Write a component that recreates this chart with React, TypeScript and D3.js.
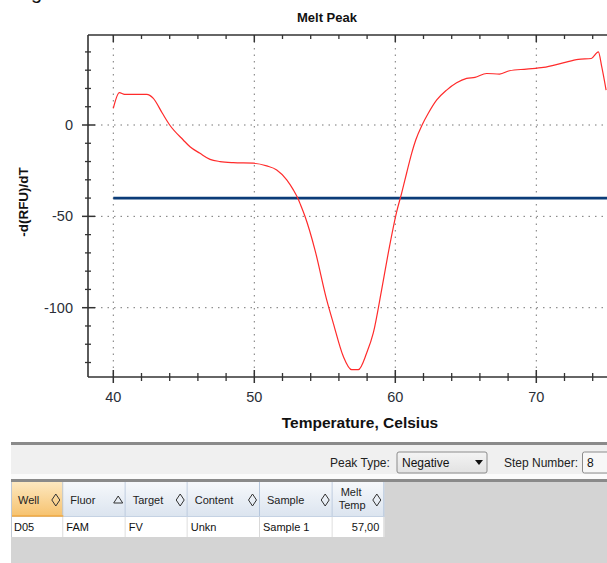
import { scaleLinear, line, range, curveMonotoneX } from "d3"

// Melt peak curve
const temps = [40, 40.43, 40.8, 42.37, 42.84, 43.48, 44.0, 44.96, 45.44, 46.15, 46.86, 47.57, 48.5, 49.93, 50.88, 51.59, 52.3, 52.77, 53.08, 53.28, 53.6, 54.3, 55.13, 55.6, 56.31, 56.9, 57.38, 57.97, 58.44, 59.03, 59.5, 60.1, 60.45, 60.8, 61.16, 61.45, 61.9, 62.34, 62.94, 63.64, 64.35, 65.06, 65.65, 66.48, 67.4, 68.1, 69.3, 70.5, 71.9, 72.98, 73.9, 74.4, 74.64, 74.95]
const values = [9.1, 17.7, 16.8, 16.8, 14.6, 6.4, 0, -8.2, -11.9, -15.5, -18.8, -20, -20.6, -20.9, -22.4, -24.6, -30, -35.5, -40, -43.7, -50.1, -68.3, -95.6, -108.4, -126.6, -133.9, -133.9, -124.8, -113.8, -90.2, -70.1, -47.4, -37.3, -26.4, -15.5, -8.2, 0, 6.4, 13.7, 19.1, 23.1, 25.5, 26.1, 28.2, 27.9, 29.7, 30.6, 31.5, 34, 35.9, 36.4, 40, 31.9, 19.1]
const threshold = -40

const xTicks = [40, 50, 60, 70]
const yTicks = [0, -50, -100]

// Table underneath
const columns = ["Well", "Fluor", "Target", "Content", "Sample", "Melt Temp"]
const sortMarks = ["diamond", "triangle", "diamond", "diamond", "diamond", "diamond"]
const rowValues = ["D05", "FAM", "FV", "Unkn", "Sample 1", "57,00"]
const colWidths = [52.3, 62.4, 62, 72.3, 72.7, 51.6]

const W = 607
const H = 563

export default function App() {
    const x = scaleLinear().domain([40, 70]).range([113.3, 536.3])
    const y = scaleLinear().domain([0, -100]).range([125, 307.7])

    const left = 88
    const top = 35
    const bottom = 377
    const right = W

    const pts = temps.map((t, i) => [t, values[i]] as [number, number])
    const path = line<[number, number]>()
        .x(d => x(d[0]))
        .y(d => y(d[1]))
        .curve(curveMonotoneX)(pts)

    const minorX = range(40, 76, 2).filter(v => !xTicks.includes(v))
    const minorY = range(-130, 50, 10).filter(v => !yTicks.includes(v))

    const font = "'Liberation Sans', Arial, sans-serif"
    const dash = "1.5 5"

    // table layout
    const tx0 = 11
    const colX = colWidths.reduce<number[]>((acc, w) => [...acc, acc[acc.length - 1] + w], [tx0])
    const headTop = 482
    const headBot = 517
    const rowBot = 537

    const mark = (kind: string, cx: number, cy: number) =>
        kind === "diamond"
            ? <path d={`M${cx},${cy - 6} L${cx + 4},${cy} L${cx},${cy + 6} L${cx - 4},${cy} Z`} fill="none" stroke="#333" strokeWidth={1} />
            : <path d={`M${cx},${cy - 4} L${cx + 4.5},${cy + 3} L${cx - 4.5},${cy + 3} Z`} fill="none" stroke="#333" strokeWidth={1} />

    return (
        <svg width={W} height={H} style={{ position: "absolute", left: 0, top: 0 }} fontFamily={font}>
            <defs>
                <linearGradient id="hdrBlue" x1="0" y1="0" x2="0" y2="1">
                    <stop offset="0" stopColor="#f6f8fb" />
                    <stop offset="1" stopColor="#dbe4ef" />
                </linearGradient>
                <linearGradient id="hdrOrange" x1="0" y1="0" x2="0" y2="1">
                    <stop offset="0" stopColor="#fde8c0" />
                    <stop offset="1" stopColor="#f6c16c" />
                </linearGradient>
                <linearGradient id="combo" x1="0" y1="0" x2="0" y2="1">
                    <stop offset="0" stopColor="#f4f4f4" />
                    <stop offset="1" stopColor="#e2e2e2" />
                </linearGradient>
                <clipPath id="plotClip">
                    <rect x={left} y={top} width={right - left} height={bottom - top} />
                </clipPath>
            </defs>
            <rect width={W} height={H} fill="#fff" />

            {/* cut-off caption glyph at the very top */}
            <text x={31} y={-1} fontSize={20} fill="#111">g</text>

            {/* title */}
            <text x={327} y={22} textAnchor="middle" fontSize={13} fontWeight="bold" fill="#111">Melt Peak</text>

            {/* grid */}
            {xTicks.map(t => (
                <line key={"gx" + t} x1={x(t)} x2={x(t)} y1={top} y2={bottom} stroke="#777" strokeDasharray={dash} />
            ))}
            {yTicks.map(t => (
                <line key={"gy" + t} x1={left} x2={right} y1={y(t)} y2={y(t)} stroke="#777" strokeDasharray={dash} />
            ))}

            {/* threshold */}
            <line x1={x(40)} x2={right} y1={y(threshold)} y2={y(threshold)} stroke="#0b3c78" strokeWidth={2.6} />

            {/* curve */}
            <path d={path ?? ""} fill="none" stroke="#ff2b2b" strokeWidth={1.2} clipPath="url(#plotClip)" />

            {/* axes frame */}
            <line x1={left} x2={right} y1={top} y2={top} stroke="#333" strokeWidth={1.6} />
            <line x1={left} x2={left} y1={top} y2={bottom} stroke="#333" strokeWidth={1.6} />
            <line x1={left} x2={right} y1={bottom} y2={bottom} stroke="#333" strokeWidth={1.6} />

            {/* x ticks */}
            {minorX.map(t => (
                <g key={"mx" + t}>
                    <line x1={x(t)} x2={x(t)} y1={bottom - 4} y2={bottom + 4} stroke="#333" strokeWidth={1.3} />
                    <line x1={x(t)} x2={x(t)} y1={top} y2={top + 4} stroke="#333" strokeWidth={1.3} />
                </g>
            ))}
            {xTicks.map(t => (
                <g key={"tx" + t}>
                    <line x1={x(t)} x2={x(t)} y1={bottom - 7} y2={bottom + 6} stroke="#333" strokeWidth={1.5} />
                    <line x1={x(t)} x2={x(t)} y1={top} y2={top + 7} stroke="#333" strokeWidth={1.5} />
                    <text x={x(t)} y={bottom + 25} textAnchor="middle" fontSize={14.5} fill="#2a2f38">{t}</text>
                </g>
            ))}

            {/* y ticks */}
            {minorY.map(t => (
                <line key={"my" + t} x1={left - 3} x2={left + 3} y1={y(t)} y2={y(t)} stroke="#333" strokeWidth={1.3} />
            ))}
            {yTicks.map(t => (
                <g key={"ty" + t}>
                    <line x1={left - 6} x2={left + 7} y1={y(t)} y2={y(t)} stroke="#333" strokeWidth={1.5} />
                    <text x={left - 15} y={y(t) + 5} textAnchor="end" fontSize={14.5} fill="#2a2f38">{t}</text>
                </g>
            ))}

            {/* axis titles */}
            <text x={360} y={428} textAnchor="middle" fontSize={15.5} fontWeight="bold" fill="#111">Temperature, Celsius</text>
            <text transform="translate(28,202) rotate(-90)" textAnchor="middle" fontSize={13.5} fontWeight="bold" fill="#111">-d(RFU)/dT</text>

            {/* toolbar */}
            <rect x={tx0} y={442} width={W - tx0} height={3} fill="#8a8a8a" />
            <rect x={tx0} y={445} width={W - tx0} height={29} fill="#f0f0f0" />
            <rect x={tx0} y={474} width={W - tx0} height={5} fill="#fbfbfb" />
            <rect x={tx0} y={479} width={W - tx0} height={3} fill="#8a8a8a" />
            <text x={330} y={467} fontSize={12} fill="#222">Peak Type:</text>
            <rect x={397} y={452} width={90} height={21} rx={2} fill="url(#combo)" stroke="#8c8c8c" />
            <text x={402} y={467} fontSize={12} fill="#111">Negative</text>
            <path d="M475,460 L483,460 L479,465 Z" fill="#111" />
            <text x={504} y={467} fontSize={12} fill="#222">Step Number:</text>
            <rect x={582.5} y={452} width={40} height={21} rx={2} fill="#f7f7f7" stroke="#8c8c8c" />
            <text x={587} y={467} fontSize={12} fill="#111">8</text>

            {/* table */}
            <rect x={tx0} y={headTop} width={W - tx0} height={H - headTop} fill="#d4d4d4" />
            {columns.map((c, i) => {
                const x0 = colX[i]
                const x1 = colX[i + 1]
                const lines = c === "Melt Temp" ? ["Melt", "Temp"] : [c]
                return (
                    <g key={c}>
                        <rect x={x0} y={headTop} width={x1 - x0} height={headBot - headTop}
                            fill={i === 0 ? "url(#hdrOrange)" : "url(#hdrBlue)"} />
                        <line x1={x1 - 0.5} x2={x1 - 0.5} y1={headTop} y2={headBot} stroke="#b5c6dc" />
                        {lines.length === 1
                            ? <text x={x0 + 7} y={504} fontSize={11} fill="#222">{c}</text>
                            : lines.map((l, j) => (
                                <text key={l} x={x0 + 6 + (j === 0 ? 2 : 0)} y={496 + j * 13} fontSize={11} fill="#222">{l}</text>
                            ))}
                        {mark(sortMarks[i], x1 - 7.5, 500)}
                        <rect x={x0} y={headBot} width={x1 - x0} height={rowBot - headBot} fill="#fff" />
                        <line x1={x1 - 0.5} x2={x1 - 0.5} y1={headBot} y2={rowBot} stroke="#d9d9d9" />
                        <text x={i === 5 ? x1 - 5 : x0 + 3} y={531} textAnchor={i === 5 ? "end" : "start"} fontSize={11} fill="#111">{rowValues[i]}</text>
                    </g>
                )
            })}
            <line x1={tx0} x2={colX[colX.length - 1]} y1={headBot - 0.5} y2={headBot - 0.5} stroke="#c5d2e3" />
            <line x1={tx0} x2={colX[1]} y1={headBot - 1} y2={headBot - 1} stroke="#f0a840" strokeWidth={1.5} />
            <line x1={tx0 + 0.5} x2={tx0 + 0.5} y1={headTop} y2={rowBot} stroke="#c0c8d4" />
        </svg>
    )
}
